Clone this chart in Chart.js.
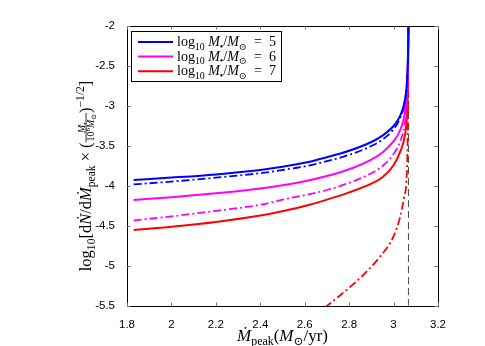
<!DOCTYPE html>
<html>
<head>
<meta charset="utf-8">
<script src="https://cdn.jsdelivr.net/npm/chart.js@4"></script>
<style>
  html, body { margin:0; padding:0; background:#fff; }
</style>
</head>
<body>
<canvas id="myChart" width="485" height="346"></canvas>
<script>
// values
const xGrid   = [1.83, 2.0, 2.2, 2.4, 2.5, 2.6, 2.7, 2.8, 2.9, 2.95, 3.0, 3.03, 3.05, 3.06, 3.065, 3.067];
const blue5   = [-3.925, -3.895, -3.855, -3.80, -3.76, -3.71, -3.64, -3.56, -3.45, -3.37, -3.25, -3.12, -2.94, -2.70, -2.35, -2.0];
const blue5dd = [-3.98, -3.945, -3.895, -3.84, -3.80, -3.755, -3.69, -3.61, -3.50, -3.42, -3.29, -3.15, -2.96, -2.72, -2.35, -2.0];
const mag6    = [-4.175, -4.14, -4.09, -4.03, -3.99, -3.94, -3.875, -3.79, -3.67, -3.58, -3.44, -3.30, -3.10, -2.82, -2.45, -2.0];
const mag6dd  = [-4.43, -4.38, -4.31, -4.235, -4.17, -4.115, -4.05, -3.96, -3.84, -3.75, -3.60, -3.44, -3.23, -2.95, -2.5, -2.0];
const red7    = [-4.55, -4.51, -4.45, -4.37, -4.315, -4.25, -4.17, -4.08, -3.97, -3.89, -3.74, -3.57, -3.38, -3.12, -2.65, -2.0];
const red7ddX = [2.69, 2.72, 2.76, 2.805, 2.864, 2.94, 3.0, 3.03, 3.048, 3.057, 3.063, 3.066];
const red7dd  = [-5.52, -5.455, -5.365, -5.26, -5.11, -4.88, -4.63, -4.38, -4.13, -3.97, -3.5, -2.7];
const peakX   = 3.067;
const legendLabels = ['5', '6', '7'];

const pts = (xs, ys) => xs.map((x, i) => ({x: x, y: ys[i]}));
const dashDot = [8, 3, 2, 3];

// --- little rich text helper (sub/superscripts, tiny fraction) ---
function fontFor(s, size) {
  return (s.it ? 'italic ' : '') + size + 'px "Liberation Serif", "DejaVu Serif", serif';
}
function measureRich(ctx, segs, size) {
  let w = 0;
  for (const s of segs) {
    if (s.frac) {
      const a = measureRich(ctx, s.frac[0], size * 0.6), b = measureRich(ctx, s.frac[1], size * 0.6);
      w += Math.max(a, b) + 2;
    } else {
      ctx.font = fontFor(s, (s.sub || s.sup) ? size * 0.7 : size);
      w += ctx.measureText(s.t).width;
    }
  }
  return w;
}
function drawRich(ctx, segs, x, y, size) {
  for (const s of segs) {
    if (s.frac) {
      const fs = size * 0.6;
      const a = measureRich(ctx, s.frac[0], fs), b = measureRich(ctx, s.frac[1], fs);
      const w = Math.max(a, b) + 2;
      const axis = y - size * 0.3;
      drawRich(ctx, s.frac[0], x + (w - a) / 2, axis - 1.5, fs);
      drawRich(ctx, s.frac[1], x + (w - b) / 2, axis + fs * 0.8, fs);
      ctx.fillRect(x, axis - 0.4, w, 0.8);
      x += w;
    } else {
      const sz = (s.sub || s.sup) ? size * 0.7 : size;
      ctx.font = fontFor(s, sz);
      const dy = s.sub ? size * 0.25 : s.sup ? -size * 0.42 : 0;
      ctx.fillText(s.t, x, y + dy);
      x += ctx.measureText(s.t).width;
    }
  }
  return x;
}

const yTitle = [
  {t: 'log'}, {t: '10', sub: 1}, {t: '[d'}, {t: 'Ṅ', it: 1}, {t: '/d'}, {t: 'Ṁ', it: 1}, {t: 'peak', sub: 1},
  {t: ' × ('},
  {frac: [[{t: 'M', it: 1}, {t: '•', sub: 1}], [{t: '10'}, {t: '6', sup: 1}, {t: 'M', it: 1}, {t: '⊙', sub: 1}]]},
  {t: ')'}, {t: '−1/2', sup: 1}, {t: ']'}
];
const xTitle = [{t: 'Ṁ', it: 1}, {t: 'peak', sub: 1}, {t: '('}, {t: 'M', it: 1}, {t: '⊙', sub: 1}, {t: '/yr)'}];
const legendText = v => [{t: 'log'}, {t: '10', sub: 1}, {t: ' M', it: 1}, {t: '•', sub: 1}, {t: '/'},
  {t: 'M', it: 1}, {t: '⊙', sub: 1}, {t: '  =  ' + v}];

const decor = {
  id: 'decor',
  afterDatasetsDraw(chart) {
    const ctx = chart.ctx, a = chart.chartArea;
    const xs = chart.scales.x, ys = chart.scales.y;
    ctx.save();
    // box
    ctx.strokeStyle = '#000';
    ctx.lineWidth = 1;
    ctx.strokeRect(Math.round(a.left) + 0.5, Math.round(a.top) + 0.5, Math.round(a.right - a.left), Math.round(a.bottom - a.top));
    // inward ticks, all four sides
    ctx.strokeStyle = '#777';
    ctx.beginPath();
    xs.ticks.forEach(t => {
      const px = Math.round(xs.getPixelForValue(t.value)) + 0.5;
      ctx.moveTo(px, a.bottom); ctx.lineTo(px, a.bottom - 3.5);
      ctx.moveTo(px, a.top); ctx.lineTo(px, a.top + 3.5);
    });
    ys.ticks.forEach(t => {
      const py = Math.round(ys.getPixelForValue(t.value)) + 0.5;
      ctx.moveTo(a.left, py); ctx.lineTo(a.left + 3.5, py);
      ctx.moveTo(a.right, py); ctx.lineTo(a.right - 3.5, py);
    });
    ctx.stroke();

    // legend
    const lx = 131.5, ly = 31.5, lw = 150, lh = 50;
    ctx.fillStyle = '#fff';
    ctx.fillRect(lx, ly, lw, lh);
    ctx.strokeStyle = '#000';
    ctx.strokeRect(lx, ly, lw, lh);
    const cols = [chart.data.datasets[0].borderColor, chart.data.datasets[2].borderColor, chart.data.datasets[4].borderColor];
    ctx.textBaseline = 'alphabetic';
    legendLabels.forEach((v, i) => {
      const ry = 42 + i * 14.6;
      ctx.strokeStyle = cols[i];
      ctx.lineWidth = 2;
      ctx.beginPath(); ctx.moveTo(138, ry); ctx.lineTo(173, ry); ctx.stroke();
      ctx.fillStyle = '#000';
      drawRich(ctx, legendText(v), 177, ry + 4, 14);
    });

    // axis titles
    ctx.fillStyle = '#000';
    const xs2 = 17;
    const wx = measureRich(ctx, xTitle, xs2);
    drawRich(ctx, xTitle, (a.left + a.right) / 2 - wx / 2, 341, xs2);

    const ysz = 16.5;
    const wy = measureRich(ctx, yTitle, ysz);
    ctx.translate(91, 176);
    ctx.rotate(-Math.PI / 2);
    drawRich(ctx, yTitle, -wy / 2, 0, ysz);
    ctx.restore();
  }
};

const fmt = v => String(+Number(v).toFixed(2));

new Chart(document.getElementById('myChart'), {
  type: 'line',
  data: {
    datasets: [
      {data: pts(xGrid, blue5), borderColor: '#0000ff', borderWidth: 2},
      {data: pts(xGrid, blue5dd), borderColor: '#0000ff', borderWidth: 1.8, borderDash: dashDot},
      {data: pts(xGrid, mag6), borderColor: '#ff00ff', borderWidth: 2},
      {data: pts(xGrid, mag6dd), borderColor: '#ff00ff', borderWidth: 1.8, borderDash: dashDot},
      {data: pts(xGrid, red7), borderColor: '#ff0000', borderWidth: 2},
      {data: pts(red7ddX, red7dd), borderColor: '#ff0000', borderWidth: 1.8, borderDash: dashDot},
      {data: [{x: peakX, y: -5.5}, {x: peakX, y: -2}], borderColor: '#444', borderWidth: 1, borderDash: [7, 4]}
    ].map(d => Object.assign({pointRadius: 0, fill: false, cubicInterpolationMode: 'monotone'}, d))
  },
  options: {
    responsive: false,
    animation: false,
    layout: {padding: {top: 26, right: 47, left: 0, bottom: 0}},
    plugins: {legend: {display: false}, tooltip: {enabled: false}},
    scales: {
      x: {
        type: 'linear', min: 1.8, max: 3.2,
        grid: {display: false}, border: {display: false},
        ticks: {stepSize: 0.2, padding: 4, color: '#000', maxRotation: 0, callback: fmt,
          font: {family: '"Liberation Sans", Arial, sans-serif', size: 11.5}},
        afterFit: s => { s.height = 40; }
      },
      y: {
        type: 'linear', min: -5.5, max: -2,
        grid: {display: false}, border: {display: false},
        ticks: {stepSize: 0.5, padding: 4, color: '#000', callback: fmt,
          font: {family: '"Liberation Sans", Arial, sans-serif', size: 11.5}},
        afterFit: s => { s.width = 127; }
      }
    }
  },
  plugins: [decor]
});
</script>
</body>
</html>
